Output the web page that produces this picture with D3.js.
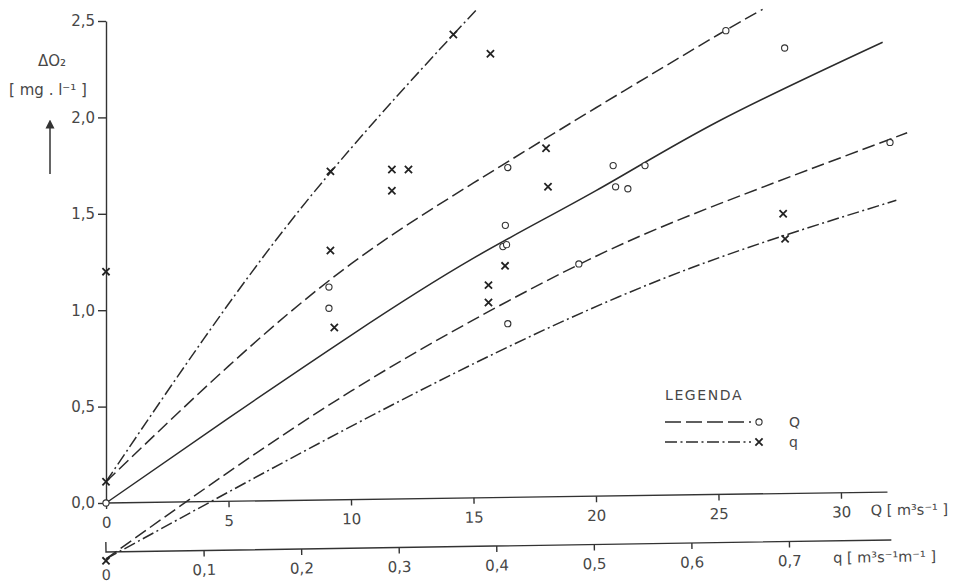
<!DOCTYPE html>
<html>
<head>
<meta charset="utf-8">
<script src="https://cdn.jsdelivr.net/npm/d3@7"></script>
<style>
  body { margin: 0; background: #fff; }
  svg text { font-family: "DejaVu Sans", sans-serif; fill: #474747; }
</style>
</head>
<body>
<svg id="chart" width="958" height="584"></svg>
<script>
// tick values
const yTicks = [0, 0.5, 1, 1.5, 2, 2.5];
const QTicks = [0, 5, 10, 15, 20, 25, 30];
const qTicks = [0.1, 0.2, 0.3, 0.4, 0.5, 0.6, 0.7];
const legendLabels = ["Q", "q"];

// fitted curves  [x, dO2]
const curveQUpper = [[0, 0.11], [5, 0.71], [10, 1.24], [15, 1.66], [20, 2.05], [25, 2.43], [26.8, 2.56]];
const curveQSolid = [[0, 0], [5, 0.44], [10, 0.87], [15, 1.27], [20, 1.62], [25, 1.98], [31.7, 2.39]];
const curveQLower = [[0, -0.29], [5, 0.16], [10, 0.58], [15, 0.95], [20, 1.28], [25, 1.55], [32.7, 1.92]];
const curveqSteep = [[0, 0.11], [0.1, 0.85], [0.2, 1.53], [0.3, 2.12], [0.38, 2.56]];
const curveqLower = [[0, -0.29], [0.2, 0.26], [0.4, 0.78], [0.6, 1.22], [0.81, 1.57]];

// measured points, Q [m3/s] (circles)
const pointsQ = [
  [0, 0], [9.1, 1.12], [9.1, 1.01], [16.3, 1.44], [16.2, 1.33], [16.35, 1.34],
  [16.4, 0.93], [16.4, 1.74], [20.7, 1.75], [20.8, 1.64], [21.3, 1.63],
  [22.0, 1.75], [19.3, 1.24], [25.3, 2.45], [27.7, 2.36], [32.0, 1.87]
];
// measured points, q [m3/s/m] (crosses)
const pointsq = [
  [0, 1.2], [0, 0.11], [0, -0.3], [0.23, 1.72], [0.23, 1.31], [0.234, 0.91],
  [0.293, 1.62], [0.293, 1.73], [0.31, 1.73], [0.356, 2.43], [0.394, 2.33],
  [0.451, 1.84], [0.453, 1.64], [0.409, 1.23], [0.392, 1.13], [0.392, 1.04],
  [0.694, 1.5], [0.696, 1.37]
];

const svg = d3.select("#chart");
const ink = "#2b2b2b";

const y = d3.scaleLinear().domain([0, 2.5]).range([503, 21]);
const xQ = d3.scaleLinear().domain([0, 30]).range([106, 841]);
const xq = d3.scaleLinear().domain([0, 0.7]).range([106, 789]);
const fmt = d => d3.format(".1f")(d).replace(".", ",");

// y axis
const yAxis = svg.append("g")
  .attr("transform", `translate(${xQ(0)},0)`)
  .call(d3.axisLeft(y).tickValues(yTicks).tickSize(8).tickSizeOuter(0).tickPadding(3).tickFormat(fmt));
yAxis.selectAll("text").attr("font-size", 15).attr("fill", "#474747");

// Q axis (slightly skewed as in the drawing)
const QAxis = svg.append("g")
  .attr("transform", `translate(0,${y(0)}) rotate(-0.8,${xQ(0)},0)`)
  .call(d3.axisBottom(xQ).tickValues(QTicks).tickSize(6).tickPadding(8).tickFormat(d3.format("d")));
QAxis.select(".domain").attr("d", `M${xQ(0)},0H${xQ(31.9)}`);
QAxis.selectAll("text").attr("font-size", 15).attr("fill", "#474747");
QAxis.append("text")
  .attr("x", xQ(31.2)).attr("y", 23)
  .attr("font-size", 14.5).attr("text-anchor", "start")
  .text("Q [ m³s⁻¹ ]");

// q axis
const qAxis = svg.append("g")
  .attr("transform", `translate(0,552) rotate(-0.88,${xq(0)},0)`)
  .call(d3.axisBottom(xq).tickValues(qTicks).tickSize(6).tickPadding(8).tickFormat(fmt));
qAxis.select(".domain").attr("d", `M${xq(0)},-10V0H${xq(0.805)}`);
qAxis.selectAll("text").attr("font-size", 15).attr("fill", "#474747");
qAxis.append("text")
  .attr("x", xq(0)).attr("y", 28)
  .attr("font-size", 14.5).attr("text-anchor", "middle")
  .text("0");
qAxis.append("text")
  .attr("x", xq(0.745)).attr("y", 22)
  .attr("font-size", 14.5).attr("text-anchor", "start")
  .text("q [ m³s⁻¹m⁻¹ ]");

svg.selectAll(".domain, .tick line").attr("stroke", "#333").attr("stroke-width", 1.4);

// y title
const yTitle = svg.append("g").attr("font-size", 15);
yTitle.append("text").attr("x", 52).attr("y", 66).attr("text-anchor", "middle").text("ΔO₂");
yTitle.append("text").attr("x", 48).attr("y", 95).attr("text-anchor", "middle").text("[ mg . l⁻¹  ]");
svg.append("defs").append("marker")
  .attr("id", "arrow").attr("viewBox", "0 0 10 10")
  .attr("refX", 5).attr("refY", 5)
  .attr("markerWidth", 6).attr("markerHeight", 8)
  .attr("orient", "auto")
  .append("path").attr("d", "M0,0L10,5L0,10z").attr("fill", "#333");
svg.append("line")
  .attr("x1", 50).attr("x2", 50).attr("y1", 174).attr("y2", 124)
  .attr("stroke", "#333").attr("stroke-width", 1.5)
  .attr("marker-end", "url(#arrow)");

// curves
const dashQ = "13,5";
const dashq = "12,3.5,2,3.5";
const lineQ = d3.line().x(d => xQ(d[0])).y(d => y(d[1])).curve(d3.curveNatural);
const lineq = d3.line().x(d => xq(d[0])).y(d => y(d[1])).curve(d3.curveNatural);

const curves = [
  { data: curveQUpper, gen: lineQ, dash: dashQ },
  { data: curveQSolid, gen: lineQ, dash: null },
  { data: curveQLower, gen: lineQ, dash: dashQ },
  { data: curveqSteep, gen: lineq, dash: dashq },
  { data: curveqLower, gen: lineq, dash: dashq }
];
svg.append("g").selectAll("path")
  .data(curves)
  .enter().append("path")
  .attr("d", d => d.gen(d.data))
  .attr("fill", "none")
  .attr("stroke", ink)
  .attr("stroke-width", 1.5)
  .attr("stroke-dasharray", d => d.dash);

// markers
const crossPath = "M-3.6,-3.6L3.6,3.6M3.6,-3.6L-3.6,3.6";
svg.append("g").selectAll("circle")
  .data(pointsQ)
  .enter().append("circle")
  .attr("cx", d => xQ(d[0]))
  .attr("cy", d => y(d[1]))
  .attr("r", 3.1)
  .attr("fill", "#fff")
  .attr("stroke", "#333")
  .attr("stroke-width", 1.1);
svg.append("g").selectAll("path")
  .data(pointsq)
  .enter().append("path")
  .attr("transform", d => `translate(${xq(d[0])},${y(d[1])})`)
  .attr("d", crossPath)
  .attr("stroke", "#222")
  .attr("stroke-width", 1.8);

// legend
const legend = svg.append("g").attr("transform", "translate(665,400)");
legend.append("text")
  .attr("font-size", 14).attr("letter-spacing", 1.6)
  .text("LEGENDA");
const items = legend.selectAll("g.item")
  .data(legendLabels)
  .enter().append("g")
  .attr("class", "item")
  .attr("transform", (d, i) => `translate(0,${22 + i * 20})`);
items.append("line")
  .attr("x1", 0).attr("x2", 86)
  .attr("stroke", ink).attr("stroke-width", 1.5)
  .attr("stroke-dasharray", (d, i) => i === 0 ? "16,5" : "12,3.5,2,3.5");
items.filter((d, i) => i === 0).append("circle")
  .attr("cx", 94).attr("r", 3.1)
  .attr("fill", "#fff").attr("stroke", "#333").attr("stroke-width", 1.1);
items.filter((d, i) => i === 1).append("path")
  .attr("transform", "translate(94,0)")
  .attr("d", crossPath).attr("stroke", "#222").attr("stroke-width", 1.8);
items.append("text")
  .attr("x", 124).attr("y", 5)
  .attr("font-size", 14)
  .text(d => d);
</script>
</body>
</html>
